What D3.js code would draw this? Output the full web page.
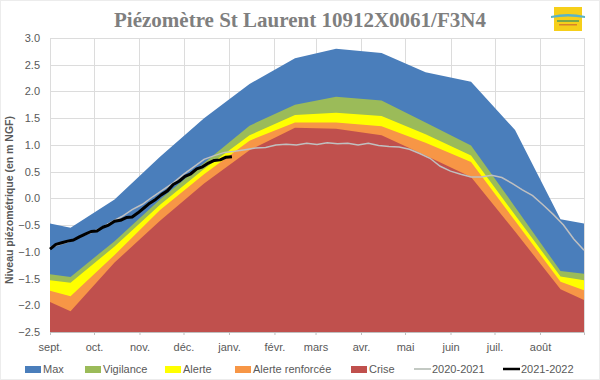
<!DOCTYPE html>
<html>
<head>
<meta charset="utf-8">
<script src="https://cdn.jsdelivr.net/npm/d3@7"></script>
<style>
    body { margin: 0; background: #fff; }
    svg { display: block; font-family: "Liberation Sans", Arial, sans-serif; }
</style>
</head>
<body>
<svg id="chart" width="600" height="380"></svg>
<script>
// threshold curves (one value per date)
var thresholdDates = ["2021-09-01", "2021-09-15", "2021-10-15", "2021-11-15", "2021-12-15", "2022-01-15",
    "2022-02-15", "2022-03-15", "2022-04-15", "2022-05-15", "2022-06-15", "2022-07-15", "2022-08-15", "2022-08-31"];
var maxVals       = [-0.47, -0.55, -0.02, 0.78, 1.50, 2.14, 2.62, 2.80, 2.72, 2.36, 2.18, 1.28, -0.39, -0.47];
var vigilanceVals = [-1.42, -1.47, -0.80, -0.02, 0.66, 1.36, 1.75, 1.90, 1.83, 1.42, 0.99, -0.16, -1.36, -1.41];
var alerteVals    = [-1.53, -1.58, -0.90, -0.12, 0.55, 1.18, 1.56, 1.60, 1.54, 1.20, 0.80, -0.31, -1.46, -1.53];
var renforceeVals = [-1.73, -1.83, -1.06, -0.22, 0.45, 1.08, 1.42, 1.42, 1.35, 1.04, 0.68, -0.42, -1.56, -1.72];
var criseVals     = [-1.94, -2.11, -1.20, -0.42, 0.28, 0.90, 1.32, 1.30, 1.18, 0.80, 0.40, -0.62, -1.70, -1.90];

// 2020-2021 : one value every 7 days from 1 sept.
var start2020 = "2021-09-01", step2020 = 7;
var vals2020 = [-0.92, -0.86, -0.80, -0.71, -0.64, -0.55, -0.44, -0.34, -0.21, -0.11, 0.03, 0.16, 0.29, 0.45,
    0.59, 0.73, 0.80, 0.86, 0.88, 0.91, 0.94, 0.95, 1.00, 1.01, 1.00, 1.03, 1.01, 1.04, 1.02, 1.03, 1.00,
    1.03, 0.99, 0.97, 0.96, 0.92, 0.84, 0.75, 0.60, 0.51, 0.45, 0.40, 0.40, 0.43, 0.39, 0.28, 0.16, 0.05,
    -0.12, -0.30, -0.50, -0.76, -0.97];

// 2021-2022 : one value every 4 days from 1 sept.
var start2021 = "2021-09-01", step2021 = 4;
var vals2021 = [-0.95, -0.86, -0.83, -0.80, -0.78, -0.72, -0.67, -0.62, -0.61, -0.54, -0.50, -0.43, -0.41,
    -0.36, -0.35, -0.27, -0.18, -0.09, -0.02, 0.07, 0.14, 0.26, 0.32, 0.41, 0.46, 0.55, 0.59, 0.66, 0.71,
    0.72, 0.77, 0.78];

var monthLabels = ["sept.", "oct.", "nov.", "déc.", "janv.", "févr.", "mars", "avr.", "mai", "juin", "juil.", "août"];
var yTicks = [-2.5, -2.0, -1.5, -1.0, -0.5, 0.0, 0.5, 1.0, 1.5, 2.0, 2.5, 3.0];

var seriesNames = ["Max", "Vigilance", "Alerte", "Alerte renforcée", "Crise", "2020-2021", "2021-2022"];
var seriesColors = ["#4a7ebb", "#9bbb59", "#ffff00", "#f79646", "#c0504d", "#c3c9c3", "#000000"];

var parse = d3.timeParse("%Y-%m-%d");
var svg = d3.select("#chart");
var plotLeft = 50, plotRight = 584, plotTop = 38, plotBottom = 332;

// outer frame
svg.append("rect")
    .attr("x", 0.5).attr("y", 0.5).attr("width", 599).attr("height", 379)
    .attr("fill", "#fff").attr("stroke", "#d9d9d9").attr("stroke-dasharray", "1,1");

var x = d3.scaleTime()
    .domain([parse("2021-09-01"), parse("2022-08-31")])
    .range([plotLeft, plotRight]);
var y = d3.scaleLinear().domain([-2.5, 3]).range([plotBottom, plotTop]);

var monthStarts = d3.timeMonth.range(parse("2021-09-01"), parse("2022-09-01"));

// gridlines
svg.append("g").selectAll("line").data(yTicks).enter().append("line")
    .attr("x1", plotLeft).attr("x2", plotRight)
    .attr("y1", function (d) { return Math.round(y(d)) + 0.5; })
    .attr("y2", function (d) { return Math.round(y(d)) + 0.5; })
    .attr("stroke", "#dcdcdc");
svg.append("g").selectAll("line").data(monthStarts.concat([parse("2022-08-31")])).enter().append("line")
    .attr("x1", function (d) { return Math.round(x(d)) + 0.5; })
    .attr("x2", function (d) { return Math.round(x(d)) + 0.5; })
    .attr("y1", plotTop).attr("y2", plotBottom)
    .attr("stroke", "#dcdcdc");

// threshold areas, widest first
var bands = [maxVals, vigilanceVals, alerteVals, renforceeVals, criseVals];
var area = d3.area()
    .x(function (d) { return x(d.date); })
    .y0(y(-2.5))
    .y1(function (d) { return y(d.value); });

bands.forEach(function (vals, k) {
    var data = vals.map(function (v, i) { return { date: parse(thresholdDates[i]), value: v }; });
    svg.append("path")
        .attr("d", area(data))
        .attr("fill", seriesColors[k]);
});

// x axis
var xAxis = d3.axisBottom(x)
    .tickValues(monthStarts)
    .tickSize(3)
    .tickFormat(function (d, i) { return monthLabels[i]; });
var gx = svg.append("g").attr("transform", "translate(0," + plotBottom + ")").call(xAxis);
gx.select(".domain").attr("stroke", "#bfbfbf");
gx.selectAll(".tick line").attr("stroke", "#bfbfbf");
gx.selectAll("text").attr("font-size", 11).attr("fill", "#595959").attr("dy", "1.15em")
    .attr("font-family", "Liberation Sans, Arial, sans-serif");

// y axis labels
var yAxis = d3.axisLeft(y).tickValues(yTicks).tickSize(0).tickPadding(10).tickFormat(d3.format(".1f"));
var gy = svg.append("g").attr("transform", "translate(" + plotLeft + ",0)").call(yAxis);
gy.select(".domain").remove();
gy.selectAll("text").attr("font-size", 11).attr("fill", "#595959")
    .attr("font-family", "Liberation Sans, Arial, sans-serif");

// lines
var line = d3.line()
    .x(function (d) { return x(d.date); })
    .y(function (d) { return y(d.value); });

function dailySeries(startStr, step, vals) {
    var s = parse(startStr);
    return vals.map(function (v, i) { return { date: d3.timeDay.offset(s, i * step), value: v }; });
}

svg.append("path")
    .attr("d", line(dailySeries(start2020, step2020, vals2020)))
    .attr("fill", "none").attr("stroke", "#c0c0c0").attr("stroke-width", 1.5);
svg.append("path")
    .attr("d", line(dailySeries(start2021, step2021, vals2021)))
    .attr("fill", "none").attr("stroke", "#000").attr("stroke-width", 3).attr("stroke-linejoin", "round");

// title
svg.append("text")
    .attr("x", 300).attr("y", 27)
    .attr("text-anchor", "middle")
    .attr("font-family", "Liberation Serif, serif")
    .attr("font-weight", "bold")
    .attr("font-size", 21)
    .attr("fill", "#7f7f7f")
    .text("Piézomètre St Laurent 10912X0061/F3N4");

// y title
svg.append("text")
    .attr("transform", "translate(13,200) rotate(-90)")
    .attr("text-anchor", "middle")
    .attr("font-size", 10.5)
    .attr("font-weight", "bold")
    .attr("fill", "#595959")
    .text("Niveau piézométrique (en m NGF)");

// small logo top right
var logo = svg.append("g").attr("transform", "translate(554,7)");
logo.append("rect").attr("width", 28).attr("height", 24).attr("fill", "#f6cf1a");
logo.append("path").attr("d", "M-3,9 Q14,5 31,9 L31,11 Q14,8 -3,11 Z").attr("fill", "#5ab4c8");
logo.append("rect").attr("x", 3).attr("y", 13).attr("width", 22).attr("height", 2).attr("fill", "#7aa84a");
logo.append("rect").attr("x", 5).attr("y", 17).attr("width", 18).attr("height", 1.5).attr("fill", "#d9822b");

// legend
var legendX = [25, 85, 165, 235, 351, 414, 503];
var legend = svg.append("g").attr("transform", "translate(0,369)");
seriesNames.forEach(function (name, i) {
    var g = legend.append("g").attr("transform", "translate(" + legendX[i] + ",0)");
    if (i < 5) {
        g.append("rect").attr("x", 0).attr("y", -3).attr("width", 16).attr("height", 7).attr("fill", seriesColors[i]);
    } else {
        g.append("line").attr("x1", 0).attr("x2", 17).attr("y1", 0).attr("y2", 0)
            .attr("stroke", seriesColors[i]).attr("stroke-width", i == 6 ? 2.5 : 2);
    }
    g.append("text").attr("x", 18).attr("y", 4)
        .attr("font-size", 11).attr("fill", "#595959")
        .text(name);
});
</script>
</body>
</html>
